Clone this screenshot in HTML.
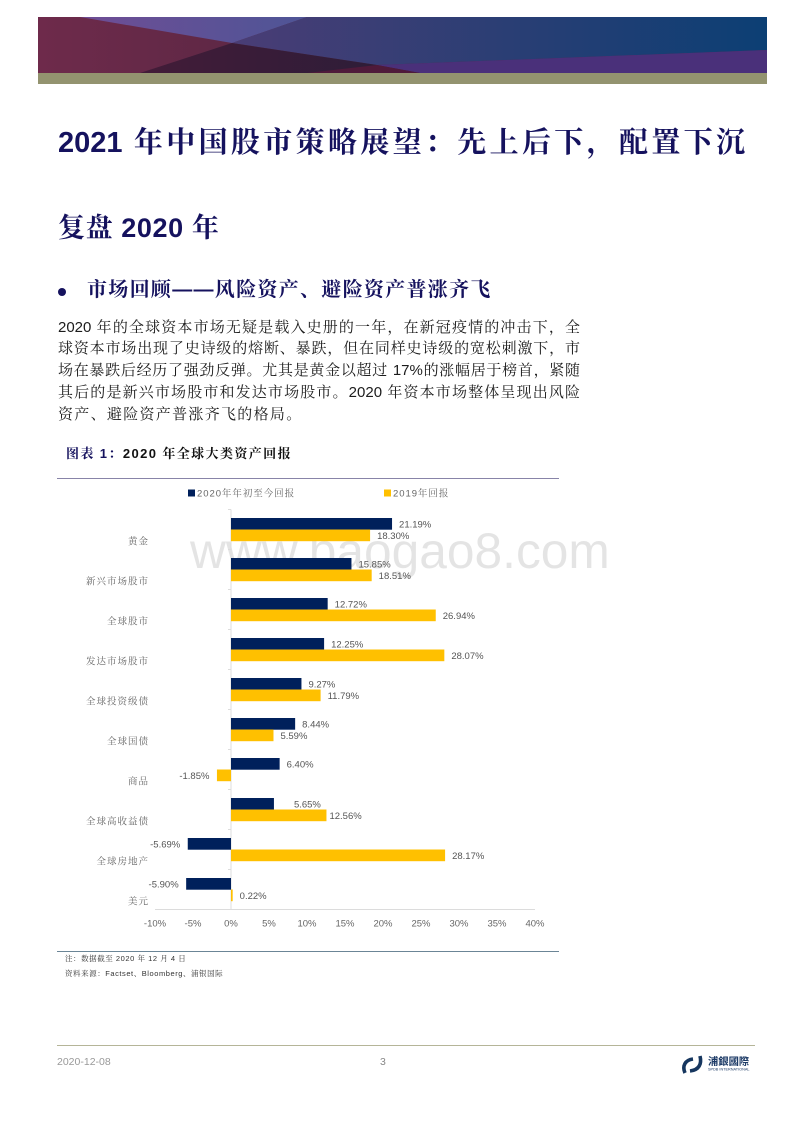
<!DOCTYPE html>
<html lang="zh">
<head>
<meta charset="utf-8">
<title>2021 年中国股市策略展望</title>
<style>
html,body{margin:0;padding:0;background:#fff;}
#page{position:relative;width:800px;height:1132px;overflow:hidden;background:#fff;font-family:"Liberation Sans","Noto Serif CJK SC",serif;}
.abs{position:absolute;white-space:nowrap;}
.title{font-family:"Liberation Sans","Noto Serif CJK SC",serif;font-weight:700;color:#15125e;}
.line{position:absolute;left:58px;width:522px;height:22px;line-height:22px;font-size:15px;color:#1c1c1c;text-align:justify;text-align-last:justify;white-space:nowrap;}
svg{position:absolute;left:0;top:0;}
</style>
</head>
<body>
<div id="page">
<svg width="800" height="90">
<defs>
<linearGradient id="bg" x1="0" x2="1" y1="0" y2="0"><stop offset="0" stop-color="#6e2a4b"/><stop offset="0.42" stop-color="#562742"/></linearGradient>
<linearGradient id="bl" x1="0" x2="1" y1="0" y2="0"><stop offset="0" stop-color="#4a3d75"/><stop offset="1" stop-color="#0c3f74"/></linearGradient>
<linearGradient id="pu" x1="0" x2="1" y1="0" y2="0"><stop offset="0" stop-color="#6f4d95"/><stop offset="1" stop-color="#4e5596"/></linearGradient>
<linearGradient id="dk" x1="0" x2="1" y1="0" y2="0"><stop offset="0" stop-color="#431c38"/><stop offset="1" stop-color="#2a1d38"/></linearGradient>
</defs>
<rect x="38" y="17" width="729" height="56" fill="url(#bg)"/>
<polygon points="80,17 307,17 232,43" fill="url(#pu)"/>
<polygon points="307,17 767,17 767,50 377,65 232,43" fill="url(#bl)"/>
<polygon points="232,43 377,65 420,73 140,73" fill="url(#dk)"/>
<polygon points="377,65 767,50 767,73 420,73" fill="#4a307a"/>
<polygon points="377,65 420,73 307,73" fill="#4f1a3a"/>
<rect x="38" y="73" width="729" height="11" fill="#93936f"/>
</svg>

<div class="abs title" style="left:58px;top:123px;width:687px;height:40px;line-height:40px;font-size:29px;text-align:justify;text-align-last:justify;">2021 年中国股市策略展望：先上后下，配置下沉</div>
<div class="abs title" style="left:58px;top:208px;height:40px;line-height:40px;font-size:27px;letter-spacing:0.6px;">复盘 2020 年</div>
<div class="abs" style="left:58px;top:288px;width:8px;height:8px;border-radius:50%;background:#15125e;"></div>
<div class="abs title" style="left:87px;top:276px;height:28px;line-height:28px;font-size:20px;letter-spacing:1.3px;">市场回顾——风险资产、避险资产普涨齐飞</div>

<div class="line" style="top:317px;">2020 年的全球资本市场无疑是载入史册的一年，在新冠疫情的冲击下，全</div>
<div class="line" style="top:338px;">球资本市场出现了史诗级的熔断、暴跌，但在同样史诗级的宽松刺激下，市</div>
<div class="line" style="top:360px;">场在暴跌后经历了强劲反弹。尤其是黄金以超过 17%的涨幅居于榜首，紧随</div>
<div class="line" style="top:382px;">其后的是新兴市场股市和发达市场股市。2020 年资本市场整体呈现出风险</div>
<div class="line" style="top:404px;width:auto;text-align-last:left;letter-spacing:1.3px;">资产、避险资产普涨齐飞的格局。</div>

<div class="abs" style="left:66px;top:445px;height:18px;line-height:18px;font-size:13px;font-weight:700;letter-spacing:1.4px;font-family:'Liberation Sans','Noto Serif CJK SC',serif;color:#111;"><span style="color:#15125e;">图表 1：</span>2020 年全球大类资产回报</div>
<div class="abs" style="left:57px;top:478px;width:502px;height:1px;background:#8884a8;"></div>

<div class="abs" style="left:190px;top:522px;height:58px;line-height:58px;font-size:49.7px;color:#000;opacity:0.1;">www.baogao8.com</div>

<svg id="chart" width="800" height="1132" style="font-family:'Liberation Sans','Noto Serif CJK SC',serif;"></svg>

<div class="abs" style="left:57px;top:951px;width:502px;height:1px;background:#6b8596;"></div>
<div class="abs" style="left:65px;top:953px;height:12px;line-height:12px;font-size:7.5px;letter-spacing:0.55px;color:#333;">注：数据截至 2020 年 12 月 4 日</div>
<div class="abs" style="left:65px;top:968px;height:12px;line-height:12px;font-size:7.5px;letter-spacing:0.55px;color:#333;">资料来源：Factset、Bloomberg、浦银国际</div>

<div class="abs" style="left:57px;top:1045px;width:698px;height:1px;background:#b5b598;"></div>
<div class="abs" style="left:57px;top:1055px;height:14px;line-height:14px;font-size:10.5px;color:#999;">2020-12-08</div>
<div class="abs" style="left:380px;top:1055px;height:14px;line-height:14px;font-size:10.5px;color:#888;">3</div>
<svg width="800" height="1132" style="pointer-events:none;">
<path d="M685 1073 C682 1066 685 1060 693 1059" fill="none" stroke="#16365f" stroke-width="3.6"/>
<path d="M700 1056 C702 1064 699 1070 690 1071" fill="none" stroke="#16365f" stroke-width="3.6"/>
<text x="708" y="1065" font-size="10.3" font-weight="700" fill="#1c3a66" font-family="'Liberation Sans','Noto Sans CJK TC',sans-serif">浦銀國際</text>
<text x="708" y="1070.5" font-size="3.8" fill="#1c3a66" font-family="'Liberation Sans',sans-serif">SPDB INTERNATIONAL</text>
</svg>
</div>

<script>
var categories = ['黄金','新兴市场股市','全球股市','发达市场股市','全球投资级债','全球国债','商品','全球高收益债','全球房地产','美元'];
var seriesNames = ['2020年年初至今回报','2019年回报'];
var returns2020 = [21.19,15.85,12.72,12.25,9.27,8.44,6.40,5.65,-5.69,-5.90];
var returns2019 = [18.30,18.51,26.94,28.07,11.79,5.59,-1.85,12.56,28.17,0.22];
var xTicks = [-10,-5,0,5,10,15,20,25,30,35,40];

var NS = 'http://www.w3.org/2000/svg';
var svg = document.getElementById('chart');
var xMin = -10, xMax = 40, plotLeft = 155, plotRight = 535, plotTop = 509.5, plotBottom = 909.5;
function xScale(v){ return plotLeft + (v - xMin) / (xMax - xMin) * (plotRight - plotLeft); }
function bandTop(i){ return plotTop + i * (plotBottom - plotTop) / categories.length; }
function mk(tag, attrs, text){
  var el = document.createElementNS(NS, tag);
  for (var k in attrs) el.setAttribute(k, attrs[k]);
  if (text !== undefined) el.textContent = text;
  svg.appendChild(el);
  return el;
}
var el;
// axes
el = mk('line', {x1:plotLeft, x2:plotRight, y1:plotBottom, y2:plotBottom, stroke:'#dcdcdc', 'stroke-width':1});


el = mk('line', {x1:xScale(0), x2:xScale(0), y1:plotTop, y2:plotBottom, stroke:'#dcdcdc', 'stroke-width':1});


categories.forEach(function(c, i){
  var b = bandTop(i);
  el = mk('line', {x1:xScale(0)-3, x2:xScale(0), y1:b, y2:b, stroke:'#dcdcdc', 'stroke-width':1});
  
  
  el = mk('text', {x:149, y:b+35, 'text-anchor':'end', 'font-size':9.5, 'letter-spacing':1, fill:'#666'}, c);
  
  
});
xTicks.forEach(function(t){
  el = mk('text', {x:xScale(t), y:plotBottom+17, 'text-anchor':'middle', 'font-size':9.5, fill:'#666'}, t + '%');
  
  
});
// bars
function labelGap(seriesIndex, i, v){
  if (v < 0) return -7.5;
  if (seriesIndex === 0 && i === 7) return 20;
  if (seriesIndex === 1 && i === 7) return 3;
  return 7;
}
function drawBar(v, y, color, seriesIndex, i){
  var x0 = xScale(0), xv = xScale(v);
  var r = mk('rect', {x:Math.min(x0,xv), y:y, width:Math.abs(xv-x0), height:11.7, fill:color});
  
  
  var t = mk('text', {
    x: xv + labelGap(seriesIndex, i, v),
    y: y + 9.3,
    'text-anchor': v >= 0 ? 'start' : 'end',
    'font-size': 9.5,
    fill: '#555'
  }, v.toFixed(2) + '%');
  
  
}
categories.forEach(function(c, i){
  var b = bandTop(i);
  drawBar(returns2020[i], b + 8.5, '#00205b', 0, i);
  drawBar(returns2019[i], b + 20, '#ffc000', 1, i);
});
// legend
var legendColors = ['#00205b','#ffc000'];
var legendX = [188,384];
seriesNames.forEach(function(n, i){
  el = mk('rect', {x:legendX[i], y:489.5, width:7, height:7, fill:legendColors[i]});
  
  
  el = mk('text', {x:legendX[i]+9, y:496.5, 'font-size':9.5, 'letter-spacing':0.95, fill:'#666'}, n);
  
  
});
</script>
</body>
</html>
